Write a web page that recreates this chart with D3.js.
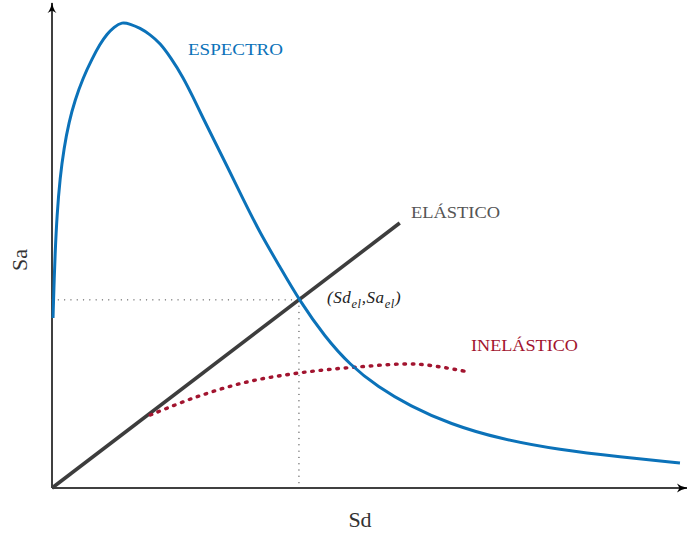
<!DOCTYPE html>
<html>
<head>
<meta charset="utf-8">
<script src="https://cdn.jsdelivr.net/npm/d3@7"></script>
<style>
  body { margin: 0; background: #fff; }
  text { font-family: "Liberation Serif", "DejaVu Serif", serif; }
</style>
</head>
<body>
<div id="chart"></div>
<script>
// values (arbitrary Sd / Sa units, 0..100)
const espectroSd = [0.16, 0.32, 0.48, 0.79, 1.27, 1.90, 2.70, 3.65, 4.92, 6.35, 7.62, 8.73, 9.84, 11.11, 12.38, 13.97, 15.56, 17.14, 18.89, 20.79, 22.38, 23.97, 25.87, 27.78, 30.32, 33.02, 36.19, 39.21, 43.33, 47.30, 51.75, 56.83, 63.17, 71.11, 80.63, 90.16, 99.68];
const espectroSa = [35.42, 42.29, 48.54, 56.88, 64.58, 70.83, 76.25, 80.83, 85.42, 89.38, 92.5, 94.58, 96.04, 97.1, 96.67, 95.83, 94.48, 92.71, 89.58, 85.63, 81.46, 77.08, 72.08, 67.08, 60.21, 53.13, 46.04, 39.17, 31.46, 25.63, 21.04, 17.08, 13.33, 10.21, 7.92, 6.46, 5.21];
const elasticoSd = [0, 55.2];
const elasticoSa = [0, 55.2];
const inelasticoSd = [15.6, 23.0, 31.0, 39.4, 48.4, 57.9, 66.0];
const inelasticoSa = [15.2, 19.0, 22.1, 24.0, 25.2, 25.8, 24.2];
const puntoEl = [39.2, 39.2];
const labels = ["ESPECTRO", "ELÁSTICO", "INELÁSTICO"];
const axisTitles = ["Sd", "Sa"];

const width = 687, height = 533;
const x = d3.scaleLinear().domain([0, 100]).range([52, 682]);
const y = d3.scaleLinear().domain([0, 100]).range([488, 8]);

const blue = "#0b72b9", gray = "#3d3d3d", red = "#a2142f";

const svg = d3.select("#chart").append("svg")
  .attr("width", width)
  .attr("height", height);

const defs = svg.append("defs");
defs.append("marker")
  .attr("id", "arrow")
  .attr("viewBox", "0 -5 12 10")
  .attr("refX", 10)
  .attr("refY", 0)
  .attr("markerUnits", "userSpaceOnUse")
  .attr("markerWidth", 12)
  .attr("markerHeight", 10)
  .attr("orient", "auto")
  .append("path")
  .attr("d", "M0,-4.5 Q4,-1 11,0 Q4,1 0,4.5 L2.5,0 Z")
  .attr("fill", "#000");

// axes
svg.append("line")
  .attr("x1", x(0)).attr("y1", y(0))
  .attr("x2", x(0)).attr("y2", 3)
  .attr("stroke", "#000").attr("stroke-width", 1.5)
  .attr("marker-end", "url(#arrow)");
svg.append("line")
  .attr("x1", x(0)).attr("y1", y(0))
  .attr("x2", 687).attr("y2", y(0))
  .attr("stroke", "#000").attr("stroke-width", 1.5)
  .attr("marker-end", "url(#arrow)");

// guide lines to the elastic point
const guide = svg.append("g")
  .attr("fill", "none")
  .attr("stroke", "#555")
  .attr("stroke-width", 1.3)
  .attr("stroke-linecap", "round")
  .attr("stroke-dasharray", "0.1 6.2");
guide.append("line")
  .attr("x1", x(0)).attr("y1", y(puntoEl[1]))
  .attr("x2", x(puntoEl[0])).attr("y2", y(puntoEl[1]));
guide.append("line")
  .attr("x1", x(puntoEl[0])).attr("y1", y(puntoEl[1]))
  .attr("x2", x(puntoEl[0])).attr("y2", y(0));

const zip = (a, b) => a.map((v, i) => [v, b[i]]);
const smooth = d3.line().x(d => x(d[0])).y(d => y(d[1])).curve(d3.curveBasis);
const line = d3.line().x(d => x(d[0])).y(d => y(d[1])).curve(d3.curveCatmullRom.alpha(0.5));

// elastic line
svg.append("path")
  .datum(zip(elasticoSd, elasticoSa))
  .attr("d", d3.line().x(d => x(d[0])).y(d => y(d[1])))
  .attr("fill", "none")
  .attr("stroke", gray)
  .attr("stroke-width", 3.6);

// inelastic curve
svg.append("path")
  .datum(zip(inelasticoSd, inelasticoSa))
  .attr("d", line)
  .attr("fill", "none")
  .attr("stroke", red)
  .attr("stroke-width", 3.4)
  .attr("stroke-linecap", "round")
  .attr("stroke-dasharray", "1.6 6.8");

// spectrum
svg.append("path")
  .datum(zip(espectroSd, espectroSa))
  .attr("d", smooth)
  .attr("fill", "none")
  .attr("stroke", blue)
  .attr("stroke-width", 3);

// labels
svg.append("text")
  .attr("x", 188).attr("y", 55)
  .attr("font-size", 16)
  .attr("textLength", 95).attr("lengthAdjust", "spacingAndGlyphs")
  .attr("fill", blue)
  .text(labels[0]);
svg.append("text")
  .attr("x", 411).attr("y", 218)
  .attr("font-size", 16)
  .attr("textLength", 89).attr("lengthAdjust", "spacingAndGlyphs")
  .attr("fill", "#555")
  .text(labels[1]);
svg.append("text")
  .attr("x", 471).attr("y", 351)
  .attr("font-size", 16)
  .attr("textLength", 107).attr("lengthAdjust", "spacingAndGlyphs")
  .attr("fill", red)
  .text(labels[2]);

// (Sd_el, Sa_el)
const pt = svg.append("text")
  .attr("x", x(puntoEl[0]) + 28).attr("y", y(puntoEl[1]) + 3)
  .attr("font-size", 17)
  .attr("font-style", "italic")
  .attr("letter-spacing", 0.6)
  .attr("fill", "#222");
pt.append("tspan").text("(Sd");
pt.append("tspan").attr("font-size", 12.5).attr("dy", 5).text("el");
pt.append("tspan").attr("dy", -5).text(",Sa");
pt.append("tspan").attr("font-size", 12.5).attr("dy", 5).text("el");
pt.append("tspan").attr("dy", -5).text(")");

// axis titles
svg.append("text")
  .attr("x", 360).attr("y", 527)
  .attr("text-anchor", "middle")
  .attr("font-size", 22)
  .attr("fill", "#333")
  .text(axisTitles[0]);
svg.append("text")
  .attr("transform", "translate(27,260) rotate(-90)")
  .attr("text-anchor", "middle")
  .attr("font-size", 22)
  .attr("fill", "#333")
  .text(axisTitles[1]);
</script>
</body>
</html>
